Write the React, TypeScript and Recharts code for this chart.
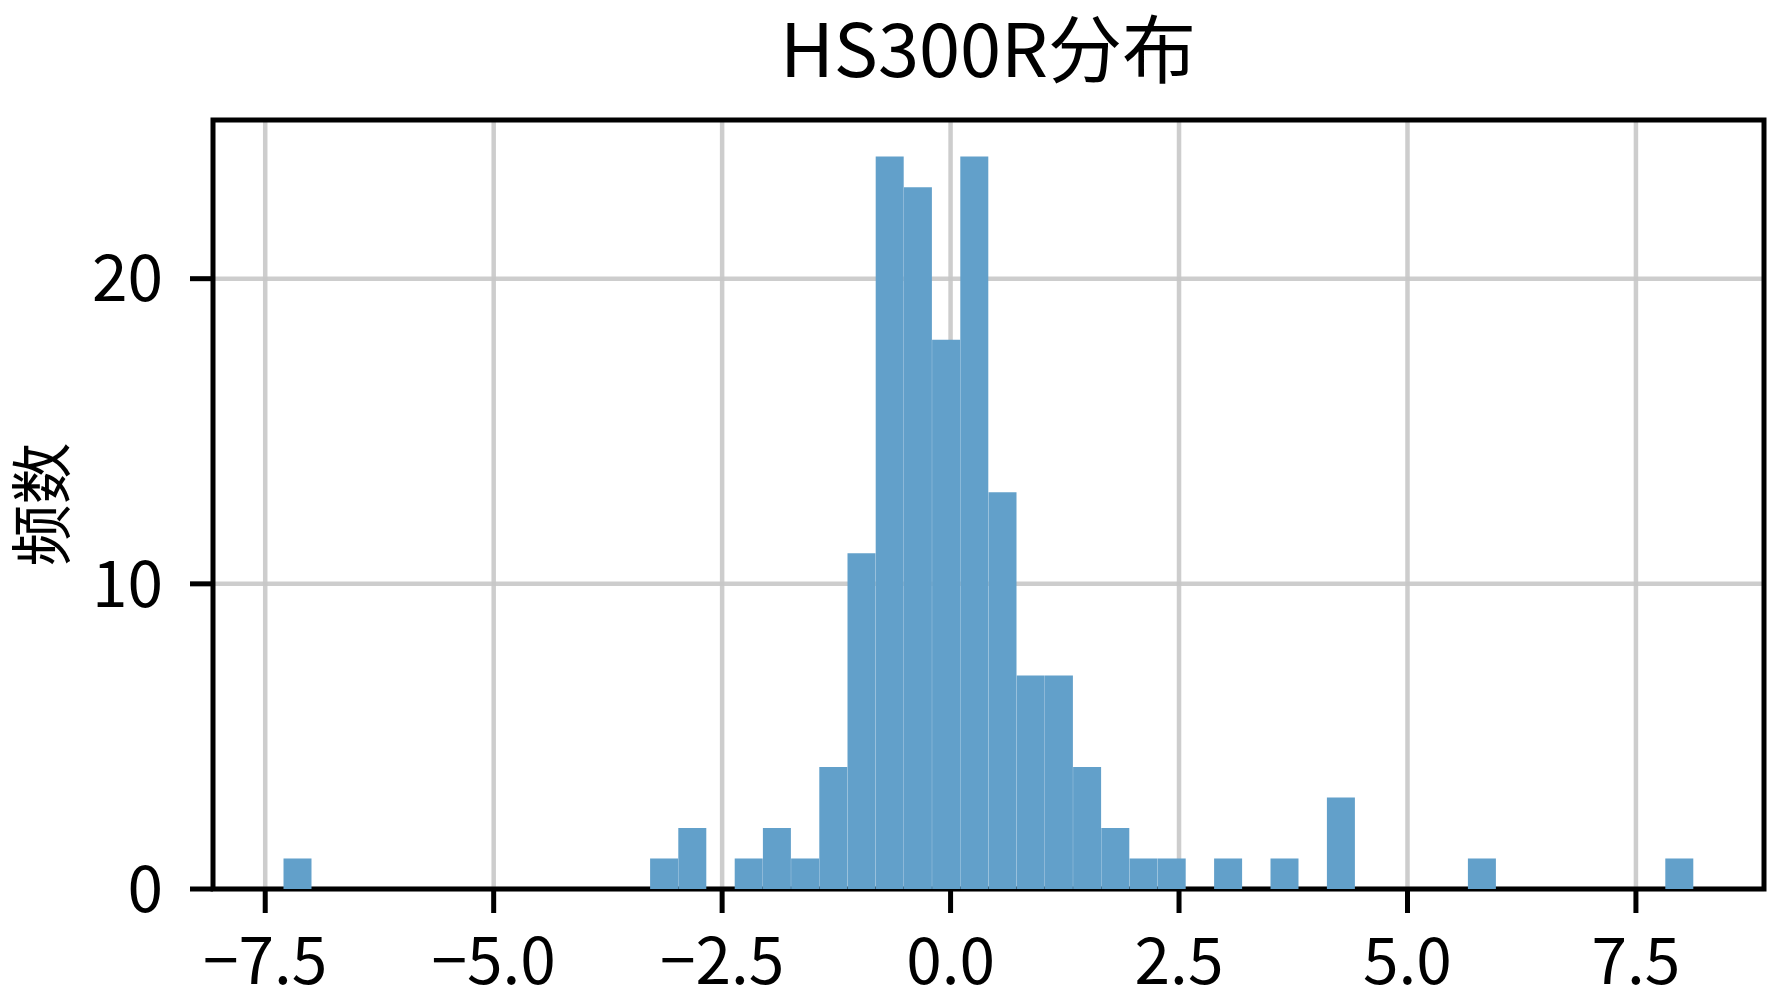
import {
  Bar,
  CartesianGrid,
  ComposedChart,
  ReferenceArea,
  XAxis,
  YAxis,
} from 'recharts'

// histogram of HS300R returns, 50 bins between the min and max value
const binLo = -7.3
const binHi = 8.13
const binCounts = [
  1, 0, 0, 0, 0, 0, 0, 0, 0, 0, 0, 0, 0, 1, 2, 0, 1, 2, 1, 4, 11, 24, 23, 18, 24,
  13, 7, 7, 4, 2, 1, 1, 0, 1, 0, 1, 0, 3, 0, 0, 0, 0, 1, 0, 0, 0, 0, 0, 0, 1,
]
const xTicks = [-7.5, -5, -2.5, 0, 2.5, 5, 7.5]
const yTicks = [0, 10, 20]
const yMax = 25.2

const binWidth = (binHi - binLo) / binCounts.length
const data = binCounts.map((count, i) => ({
  x: binLo + (i + 0.5) * binWidth,
  count,
}))
const xPad = 0.05 * (binHi - binLo)
const xDomain: [number, number] = [binLo - xPad, binHi + xPad]

const FONT = '"Noto Sans CJK SC", "Noto Sans", sans-serif'
const tickStyle = { fill: '#000', fontSize: 64, fontFamily: FONT }
const fmt = (v: number) => v.toFixed(1).replace('-', '\u2212')

export default function App() {
  return (
    <div style={{ position: 'relative', width: 1787, height: 1000, background: '#fff' }}>
      <style>{'body{margin:0}'}</style>
      <ComposedChart
        width={1787}
        height={1000}
        data={data}
        margin={{ top: 120, right: 23, bottom: 11, left: 0 }}
        barCategoryGap={0}
        barGap={0}
      >
        <text
          x={988}
          y={77}
          textAnchor="middle"
          fontSize={74}
          fontFamily={FONT}
          fill="#000"
        >
          HS300R分布
        </text>
        <XAxis
          dataKey="x"
          type="number"
          domain={xDomain}
          ticks={xTicks}
          tickFormatter={fmt}
          axisLine={false}
          tickLine={{ stroke: '#000', strokeWidth: 5 }}
          tickSize={24}
          tickMargin={26}
          tick={tickStyle}
          height={100}
          interval={0}
        />
        <YAxis
          type="number"
          domain={[0, yMax]}
          ticks={yTicks}
          axisLine={false}
          tickLine={{ stroke: '#000', strokeWidth: 5 }}
          tickSize={23}
          tickMargin={27}
          tick={tickStyle}
          width={213}
          interval={0}
          label={{
            content: ({ viewBox }: any) => {
              const cx = viewBox.x + 38
              const cy = viewBox.y + viewBox.height / 2
              return (
                <text
                  x={cx}
                  y={cy}
                  transform={`rotate(-90, ${cx}, ${cy})`}
                  textAnchor="middle"
                  dominantBaseline="central"
                  fontSize={62}
                  fontFamily={FONT}
                  fill="#000"
                >
                  频数
                </text>
              )
            },
          }}
        />
        <Bar dataKey="count" fill="#62a0ca" isAnimationActive={false} />
        <CartesianGrid
          stroke="#c8c8c8"
          strokeOpacity={0.9}
          strokeWidth={4.5}
          horizontalValues={yTicks}
          verticalValues={xTicks}
        />
        <ReferenceArea
          x1={xDomain[0]}
          x2={xDomain[1]}
          y1={0}
          y2={yMax}
          fill="none"
          stroke="#000"
          strokeWidth={5}
          ifOverflow="visible"
        />
      </ComposedChart>
    </div>
  )
}
